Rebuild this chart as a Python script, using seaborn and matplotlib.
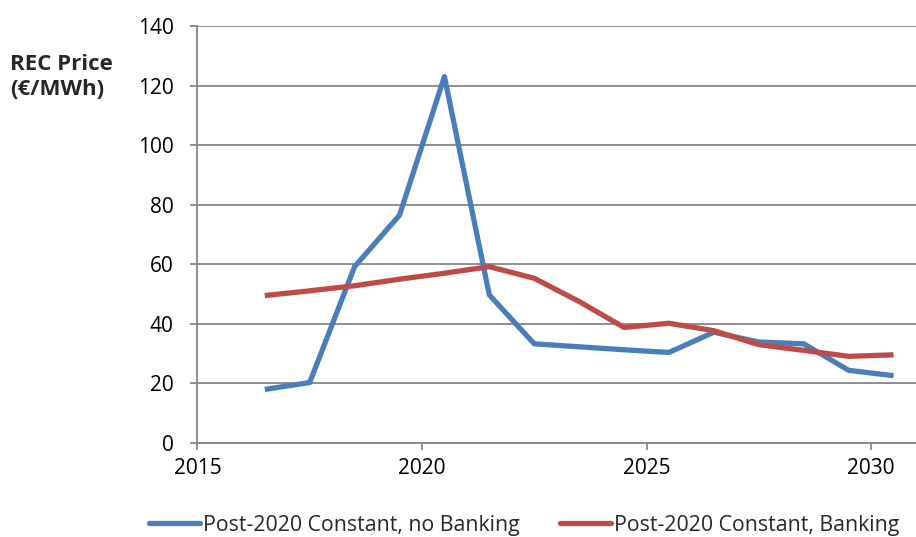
import matplotlib
matplotlib.use('Agg')
import matplotlib.pyplot as plt
import seaborn as sns
import pandas as pd

# data
years = [2016.5, 2017.5, 2018.5, 2019.5, 2020.5, 2021.5, 2022.5, 2023.5,
         2024.5, 2025.5, 2026.5, 2027.5, 2028.5, 2029.5, 2030.5]
no_banking = [18, 20.3, 59.2, 76.5, 123, 49.7, 33.3, 32.3,
              31.3, 30.4, 37.2, 33.9, 33.3, 24.4, 22.6]
banking = [49.5, 51.1, 52.8, 55.0, 57.0, 59.2, 55.3, 47.5,
           38.8, 40.2, 37.7, 33.0, 31.1, 29.1, 29.6]
series_names = ["Post-2020 Constant, no Banking", "Post-2020 Constant, Banking"]
series_colors = ["#4a7ebb", "#be4b48"]

df = pd.DataFrame({
    "year": years * 2,
    "price": no_banking + banking,
    "series": [series_names[0]] * len(years) + [series_names[1]] * len(years),
})

sns.set_style("white")
plt.rcParams['font.family'] = ['Open Sans', 'DejaVu Sans']

fig = plt.figure(figsize=(9.16, 5.37), dpi=100)
ax = fig.add_axes([197.4 / 916, 1 - 443 / 537, 1 - 197.4 / 916, (443 - 26) / 537])

sns.lineplot(data=df, x="year", y="price", hue="series", palette=series_colors,
             linewidth=3.8, ax=ax, legend=False, solid_capstyle='butt')

grid_c = '#868686'
ax.set_xlim(2015, 2031)
ax.set_ylim(0, 140)
ax.set_xticks([2015, 2020, 2025, 2030])
ax.set_yticks(range(0, 141, 20))
ax.yaxis.grid(True, color=grid_c, linewidth=1.3)
ax.set_axisbelow(True)
for side in ['top', 'right']:
    ax.spines[side].set_visible(False)
for side in ['left', 'bottom']:
    ax.spines[side].set_color(grid_c)
    ax.spines[side].set_linewidth(1.3)
ax.tick_params(axis='both', colors=grid_c, labelcolor='black', labelsize=15,
               direction='out', length=5, width=1.3, bottom=True, left=True)
ax.tick_params(axis='y', pad=12)
ax.tick_params(axis='x', pad=6)
ax.set_xlabel("")
ax.set_ylabel("")

fig.text(10 / 916, 1 - 77 / 537, "REC Price\n(€/MWh)", fontsize=16, fontweight='bold',
         ha='left', va='center', linespacing=1.3)

handles = [plt.Line2D([], [], color=c, linewidth=3.8) for c in series_colors]
fig.legend(handles, series_names, loc='center', bbox_to_anchor=(524 / 916, 1 - 525 / 537),
           ncol=2, frameon=False, fontsize=15.3, handlelength=2.4, handletextpad=0.15,
           columnspacing=1.9)

fig.savefig("out.png", dpi=100, facecolor='white')
